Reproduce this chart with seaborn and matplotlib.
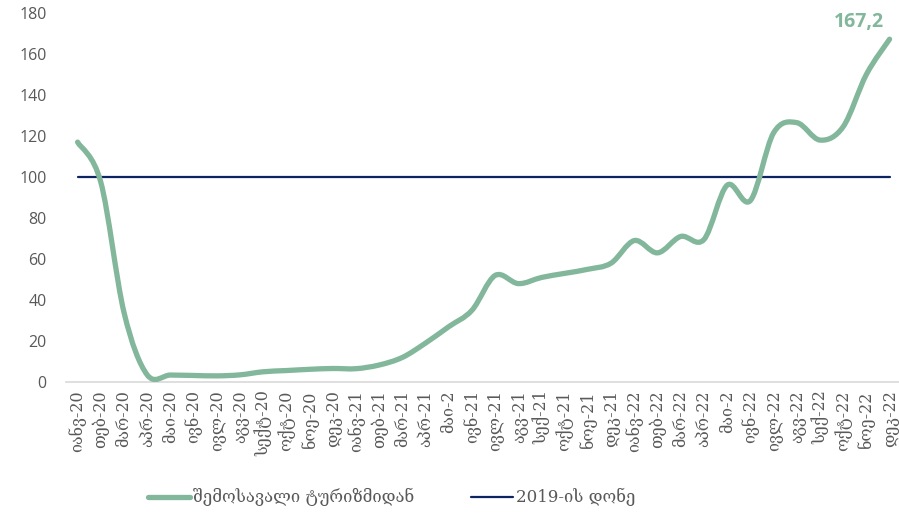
import numpy as np
import pandas as pd
import matplotlib
matplotlib.use("Agg")
import matplotlib.pyplot as plt
from matplotlib.path import Path
from matplotlib.patches import PathPatch
from matplotlib.lines import Line2D
import seaborn as sns

# თვეები (x ღერძი)
months = ["იანვ-20", "თებ-20", "მარ-20", "აპრ-20", "მაი-20", "ივნ-20", "ივლ-20", "აგვ-20",
          "სექტ-20", "ოქტ-20", "ნოე-20", "დეკ-20",
          "იანვ-21", "თებ-21", "მარ-21", "აპრ-21", "მაი-2", "ივნ-21", "ივლ-21", "აგვ-21",
          "სექ-21", "ოქტ-21", "ნოე-21", "დეკ-21",
          "იანვ-22", "თებ-22", "მარ-22", "აპრ-22", "მაი-2", "ივნ-22", "ივლ-22", "აგვ-22",
          "სექ-22", "ოქტ-22", "ნოე-22", "დეკ-22"]

# შემოსავალი ტურიზმიდან (2019 = 100)
income = [117, 97.5, 34, 3.5, 3.4, 3.2, 3, 3.5, 5, 5.6, 6.2, 6.6,
          6.5, 8.3, 12, 19, 27, 35, 52, 48, 51, 53, 55, 58,
          69, 63, 71, 69.5, 96, 88.5, 121.5, 126.5, 118, 124.5, 150, 167.2]
level_2019 = [100] * len(months)

green = "#82b79b"
navy = "#0d2463"
grey = "#595959"

sns.set_theme(style="white")
plt.rcParams['font.family'] = ['DejaVu Serif', 'DejaVu Sans']

fig = plt.figure(figsize=(8.99, 5.18), dpi=100)
ax = fig.add_axes([0.0734, 0.2625, 0.929, 0.7125])

df = pd.DataFrame({"x": np.arange(len(months)), "level": level_2019})
sns.lineplot(data=df, x="x", y="level", ax=ax, color=navy, linewidth=1.6)

# smoothed line (Bezier through the data points, like Excel's smoothed line)
xs = np.arange(len(income), dtype=float)
ys = np.array(income, dtype=float)
pts = np.column_stack([xs, ys])
verts = [pts[0]]
codes = [Path.MOVETO]
n = len(pts)
for i in range(n - 1):
    p0 = pts[i - 1] if i > 0 else pts[i]
    p1 = pts[i]
    p2 = pts[i + 1]
    p3 = pts[i + 2] if i + 2 < n else pts[i + 1]
    c1 = p1 + (p2 - p0) / 6.0
    c2 = p2 - (p3 - p1) / 6.0
    verts += [c1, c2, p2]
    codes += [Path.CURVE4] * 3
ax.add_patch(PathPatch(Path(verts, codes), fill=False, edgecolor=green,
                       linewidth=3.8, capstyle="round", joinstyle="round", zorder=3))

ax.annotate("167,2", xy=(xs[-1], ys[-1]), xytext=(-4, 5), textcoords="offset points",
            ha="right", va="bottom", color=green, fontsize=14, fontweight="bold",
            family="Open Sans")

ax.set_xlim(-0.5, len(months) - 0.5)
ax.set_ylim(0, 180)
ax.set_yticks(range(0, 181, 20))
ax.set_xticks(xs)
ax.set_xticklabels(months, rotation=90, fontsize=11.5, color=grey)
for lbl in ax.get_yticklabels():
    lbl.set_family("Open Sans")
ax.tick_params(axis="y", labelsize=11.5, colors=grey, length=0, pad=14)
ax.tick_params(axis="x", length=0, pad=6)
ax.set_xlabel("")
ax.set_ylabel("")
for s in ["top", "right", "left"]:
    ax.spines[s].set_visible(False)
ax.spines["bottom"].set_color("#d9d9d9")
ax.spines["bottom"].set_linewidth(1.2)
ax.grid(False)

handles = [Line2D([0], [0], color=green, linewidth=3.8, solid_capstyle="round"),
           Line2D([0], [0], color=navy, linewidth=1.6)]
fig.legend(handles, ["შემოსავალი ტურიზმიდან", "2019-ის დონე"],
           loc="center", bbox_to_anchor=(0.436, 0.04), ncol=2, frameon=False,
           fontsize=12, handlelength=2.5, handletextpad=0.2, columnspacing=3.4,
           labelcolor=grey)

fig.savefig("out.png", dpi=100)
